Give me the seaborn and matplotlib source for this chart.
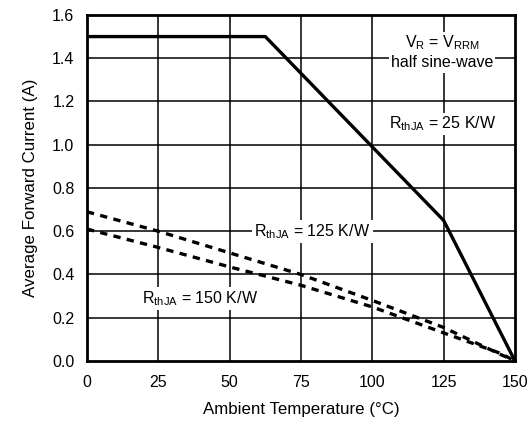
import matplotlib
matplotlib.use("Agg")
import matplotlib.pyplot as plt
import seaborn as sns
import pandas as pd

sns.set_theme(style="white")
plt.rcParams['font.family'] = ['Liberation Sans', 'DejaVu Sans']
plt.rcParams['mathtext.fontset'] = 'custom'
plt.rcParams['mathtext.rm'] = 'Liberation Sans'
for k in ['text.color', 'axes.labelcolor', 'xtick.color', 'ytick.color']:
    plt.rcParams[k] = 'black'

# Data
t_25 = [0, 62.5, 125, 150]
i_25 = [1.5, 1.5, 0.65, 0.0]

t_125 = [0, 25, 50, 75, 100, 125, 145, 150]
i_125 = [0.69, 0.60, 0.50, 0.40, 0.28, 0.155, 0.03, 0.0]

t_150 = [0, 25, 50, 75, 100, 125, 145, 150]
i_150 = [0.61, 0.525, 0.435, 0.35, 0.25, 0.13, 0.035, 0.0]

x_ticks = [0, 25, 50, 75, 100, 125, 150]
y_ticks = [0.0, 0.2, 0.4, 0.6, 0.8, 1.0, 1.2, 1.4, 1.6]

fig = plt.figure(figsize=(5.32, 4.21), dpi=100)
ax = fig.add_axes([0.1635, 0.1425, 0.8045, 0.822])

for xv in x_ticks[1:-1]:
    ax.axvline(xv, color='black', lw=1.1, zorder=1)
for yv in y_ticks[1:-1]:
    ax.axhline(yv, color='black', lw=1.1, zorder=1)

sns.lineplot(x=t_25, y=i_25, ax=ax, color='black', lw=2.4, zorder=4)
sns.lineplot(x=t_125, y=i_125, ax=ax, color='black', lw=2.4, zorder=4,
             dashes=False, linestyle=(0, (2.2, 1.9)))
sns.lineplot(x=t_150, y=i_150, ax=ax, color='black', lw=2.4, zorder=4,
             dashes=False, linestyle=(0, (2.2, 1.9)))

box = dict(facecolor='white', edgecolor='none', pad=1.5)
fs = 11.5
ax.text(124.5, 1.47, r"V$_{\rm R}$ = V$_{\rm RRM}$", ha='center', va='center', fontsize=fs, bbox=box, zorder=2.5)
ax.text(124.5, 1.378, "half sine-wave", ha='center', va='center', fontsize=fs, bbox=box, zorder=2.5)
ax.text(124.5, 1.096, r"R$_{\rm thJA}$ = 25 K/W", ha='center', va='center', fontsize=fs, bbox=box, zorder=2.5)
ax.text(79, 0.597, r"R$_{\rm thJA}$ = 125 K/W", ha='center', va='center', fontsize=fs, bbox=box, zorder=2.5)
ax.text(39.6, 0.29, r"R$_{\rm thJA}$ = 150 K/W", ha='center', va='center', fontsize=fs, bbox=box, zorder=2.5)

ax.set_xlim(0, 150)
ax.set_ylim(0, 1.6)
ax.set_xticks(x_ticks)
ax.set_yticks(y_ticks)
ax.set_xticklabels([str(v) for v in x_ticks], fontsize=11.5)
ax.set_yticklabels([f"{v:.1f}" for v in y_ticks], fontsize=11.5)
ax.tick_params(axis='y', length=0, pad=9)
ax.tick_params(axis='x', length=0, pad=10)
ax.set_xlabel("Ambient Temperature (°C)", fontsize=12.2, labelpad=9)
ax.set_ylabel("Average Forward Current (A)", fontsize=12.2, labelpad=10)
for s in ax.spines.values():
    s.set_color('black')
    s.set_linewidth(2.0)
    s.set_zorder(5)

fig.savefig("out.png", dpi=100)
